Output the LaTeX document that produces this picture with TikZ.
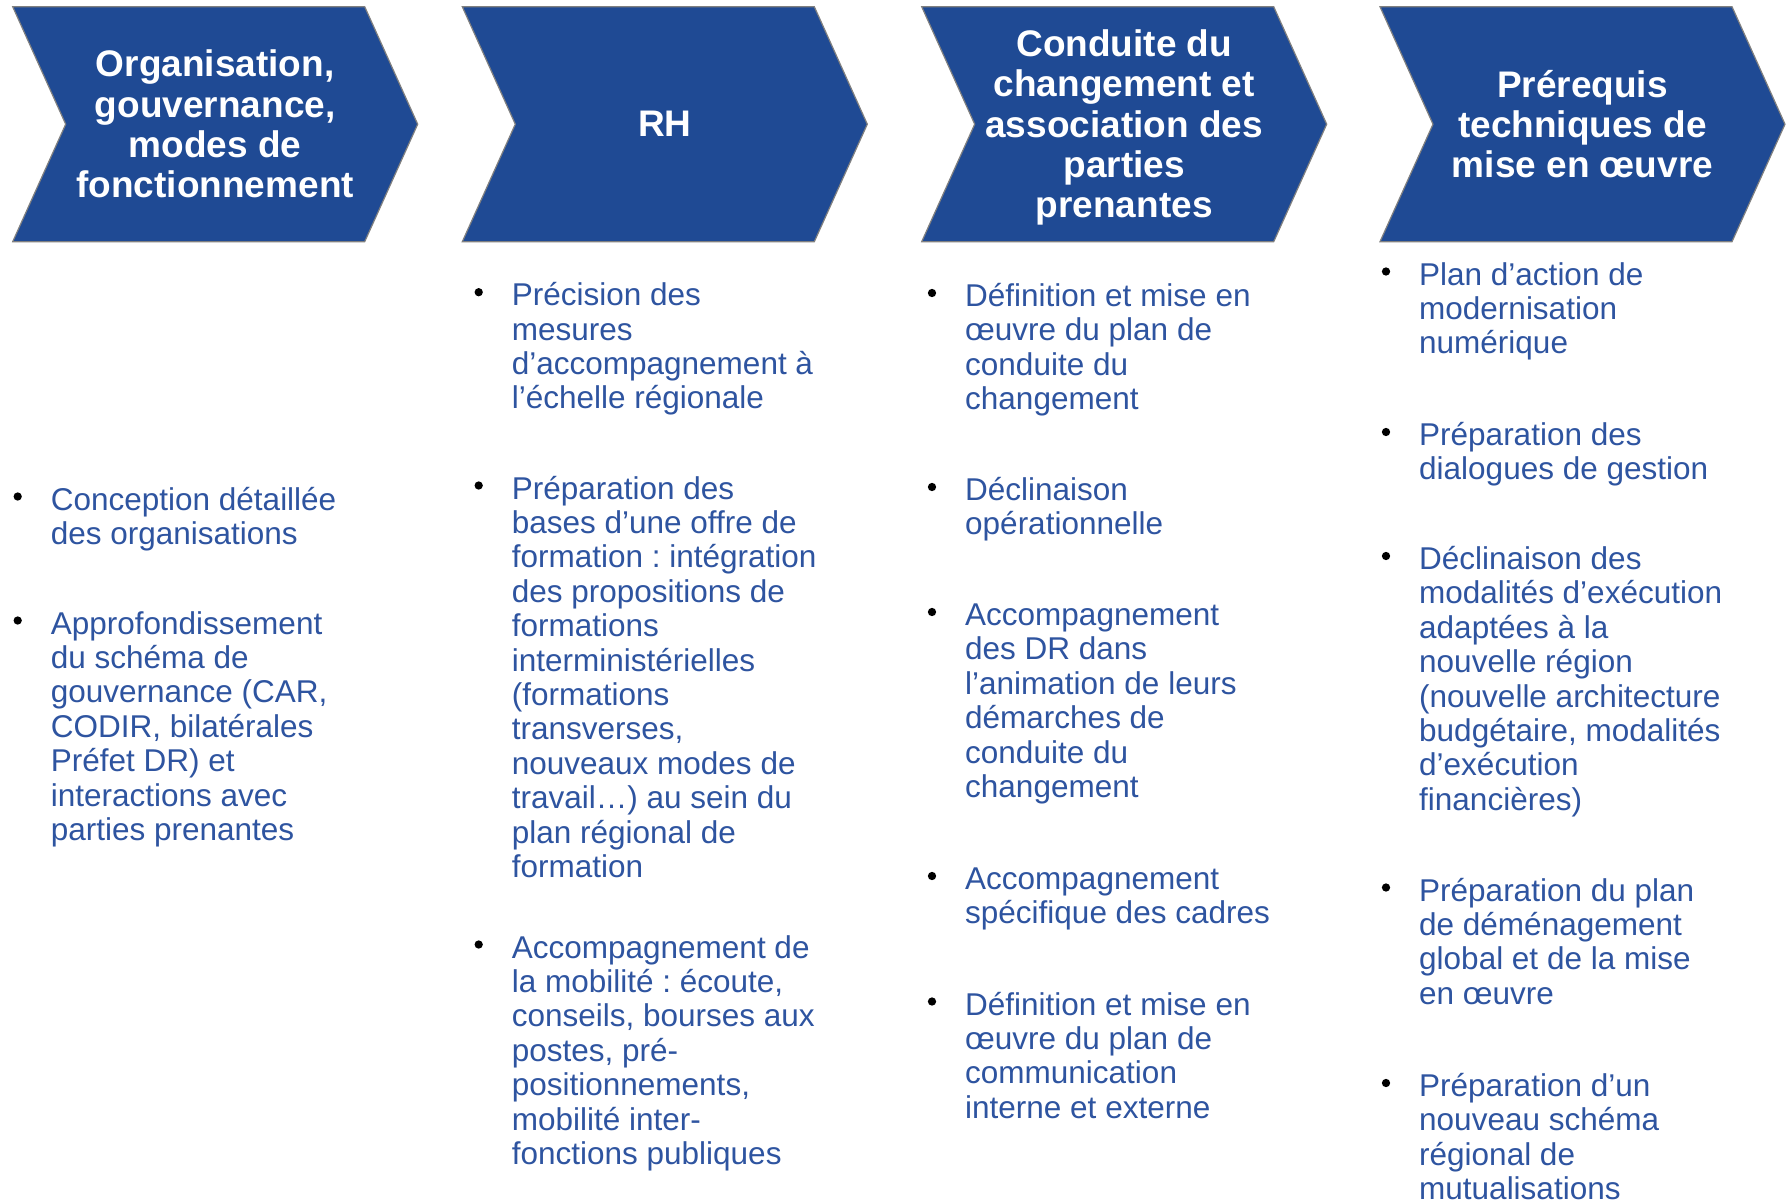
\documentclass[tikz,border=0pt]{standalone}
\usepackage{fontspec}
\setmainfont{Liberation Sans}
\frenchspacing
\definecolor{chev}{RGB}{31,74,148}
\definecolor{txtblue}{RGB}{46,84,160}
\definecolor{edgegray}{RGB}{128,128,128}
\newcommand\bulletitem[4]{%
  \node[bul] (b#1) at (#2-33,#3-13.5) {};
  \node[itm, anchor=base west] (t#1) at (#2,#3) {\begin{tabular}[t]{@{}l@{}}#4\end{tabular}};}
\begin{document}
\begin{tikzpicture}[x=1pt,y=-1pt,
  chevron/.style={fill=chev, draw=edgegray, line width=1.2pt, line join=miter},
  head/.style={text=white, font=\fontsize{37}{40.3}\selectfont\bfseries\frenchspacing, align=center, inner sep=0pt},
  itm/.style={text=txtblue, font=\fontsize{31.5}{34.4}\selectfont\frenchspacing, inner sep=0pt},
  bul/.style={circle, fill=black, minimum size=8.3pt, inner sep=0pt}]
\useasboundingbox (0,0) rectangle (1786,1202);
\fill[white] (0,0) rectangle (1786,1202);
% chevrons
\foreach \x in {12.7,462.3,921.7,1380}{
  \draw[chevron] (\x,6.7) -- ++(352,0) -- ++(53,117.5) -- ++(-53,117.5) -- ++(-352,0) -- ++(53,-117.5) -- cycle;
}
\node[head] (h1) at (215.2,124.2) {Organisation,\\gouvernance,\\modes de\\fonctionnement};
\node[head] (h2) at (664.8,124.2) {RH};
\node[head] (h3) at (1124.2,127.6) {Conduite du\\changement et\\association des\\parties\\prenantes};
\node[head] (h4) at (1582.5,124.2) {Prérequis\\techniques de\\mise en œuvre};
% column 1
\bulletitem{1a}{50.7}{510}{Conception détaillée\\des organisations}
\bulletitem{1b}{50.7}{634}{Approfondissement\\du schéma de\\gouvernance (CAR,\\CODIR, bilatérales\\Préfet DR) et\\interactions avec\\parties prenantes}
% column 2
\bulletitem{2a}{511.7}{305.7}{Précision des\\mesures\\d’accompagnement à\\l’échelle régionale}
\bulletitem{2b}{511.7}{499}{Préparation des\\bases d’une offre de\\formation : intégration\\des propositions de\\formations\\interministérielles\\(formations\\transverses,\\nouveaux modes de\\travail…) au sein du\\plan régional de\\formation}
\bulletitem{2c}{511.7}{958}{Accompagnement de\\la mobilité : écoute,\\conseils, bourses aux\\postes, pré-\\positionnements,\\mobilité inter-\\fonctions publiques}
% column 3
\bulletitem{3a}{965}{306.5}{Définition et mise en\\œuvre du plan de\\conduite du\\changement}
\bulletitem{3b}{965}{500.5}{Déclinaison\\opérationnelle}
\bulletitem{3c}{965}{625.5}{Accompagnement\\des DR dans\\l’animation de leurs\\démarches de\\conduite du\\changement}
\bulletitem{3d}{965}{889.5}{Accompagnement\\spécifique des cadres}
\bulletitem{3e}{965}{1015}{Définition et mise en\\œuvre du plan de\\communication\\interne et externe}
% column 4
\bulletitem{4a}{1419}{285}{Plan d’action de\\modernisation\\numérique}
\bulletitem{4b}{1419}{445.5}{Préparation des\\dialogues de gestion}
\bulletitem{4c}{1419}{569.5}{Déclinaison des\\modalités d’exécution\\adaptées à la\\nouvelle région\\(nouvelle architecture\\budgétaire, modalités\\d’exécution\\financières)}
\bulletitem{4d}{1419}{901}{Préparation du plan\\de déménagement\\global et de la mise\\en œuvre}
\bulletitem{4e}{1419}{1096.5}{Préparation d’un\\nouveau schéma\\régional de\\mutualisations}
\end{tikzpicture}
\end{document}
